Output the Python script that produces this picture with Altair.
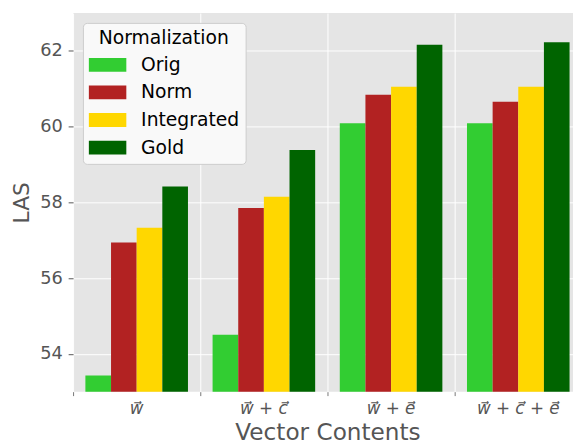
import altair as alt
import pandas as pd

categories = ["w\u20d7", "w\u20d7 + c\u20d7", "w\u20d7 + e\u20d7", "w\u20d7 + c\u20d7 + e\u20d7"]
normalizations = ["Orig", "Norm", "Integrated", "Gold"]
orig = [53.43, 54.50, 60.09, 60.09]
norm = [56.94, 57.85, 60.84, 60.66]
integrated = [57.33, 58.15, 61.05, 61.05]
gold = [58.42, 59.38, 62.16, 62.23]
colors = ["#32CD32", "#B22222", "#FFD700", "#006400"]
y_ticks = [54, 56, 58, 60, 62]

series = {"Orig": orig, "Norm": norm, "Integrated": integrated, "Gold": gold}
rows = []
for n in normalizations:
    for c, v in zip(categories, series[n]):
        rows.append({"content": c, "norm": n, "las": v})
df = pd.DataFrame(rows)

FONT = "DejaVu Sans"

chart = alt.Chart(df).mark_bar(clip=True).encode(
    x=alt.X(
        "content:N",
        sort=categories,
        scale=alt.Scale(range=[0, 516], paddingInner=0, paddingOuter=0),
        axis=alt.Axis(
            title="Vector Contents",
            bandPosition=0,
            labelOffset=0,
            labelAngle=0,
            grid=True,
            gridColor="white",
            gridWidth=1,
            domain=False,
            tickColor="#777777",
            tickSize=4,
            labelFont=FONT,
            labelFontSize=17,
            labelFontStyle="italic",
            labelColor="#555555",
            labelPadding=5,
            titleFont=FONT,
            titleFontSize=23.5,
            titleFontWeight="normal",
            titleColor="#555555",
            titlePadding=5,
        ),
    ),
    xOffset=alt.XOffset(
        "norm:N",
        sort=normalizations,
        scale=alt.Scale(paddingInner=0, paddingOuter=0.48),
    ),
    y=alt.Y(
        "las:Q",
        scale=alt.Scale(domain=[53, 63], nice=False, zero=False),
        axis=alt.Axis(
            title="LAS",
            values=y_ticks,
            grid=True,
            gridColor="white",
            gridWidth=1,
            domain=False,
            tickColor="#555555",
            tickSize=5,
            labelFont=FONT,
            labelFontSize=18,
            labelColor="#555555",
            labelPadding=6,
            titleFont=FONT,
            titleFontSize=22,
            titleFontWeight="normal",
            titleColor="#555555",
            titlePadding=6,
        ),
    ),
    color=alt.Color(
        "norm:N",
        sort=normalizations,
        scale=alt.Scale(domain=normalizations, range=colors),
        legend=alt.Legend(
            title="Normalization",
            orient="none",
            legendX=10,
            legendY=10,
            direction="vertical",
            fillColor="#F9F9F9",
            strokeColor="#CCCCCC",
            cornerRadius=4,
            padding=6,
            titleFont=FONT,
            titleFontSize=19,
            titleFontWeight="normal",
            titleColor="black",
            titleAnchor="middle",
            titlePadding=8,
            labelFont=FONT,
            labelFontSize=19,
            labelColor="black",
            labelOffset=34,
            rowPadding=8,
            symbolType="M-1,-0.737H3V0.737H-1Z",
            symbolSize=361,
            symbolStrokeWidth=0,
            symbolOpacity=1,
        ),
    ),
).properties(
    width=507,
    height=384,
    autosize=alt.AutoSizeParams(type="none"),
    padding={"left": 66, "top": 2, "right": 0, "bottom": 52},
).configure_view(fill="#E5E5E5", strokeWidth=0)

chart.save("out.html", embed_options={"renderer": "svg", "actions": False})
